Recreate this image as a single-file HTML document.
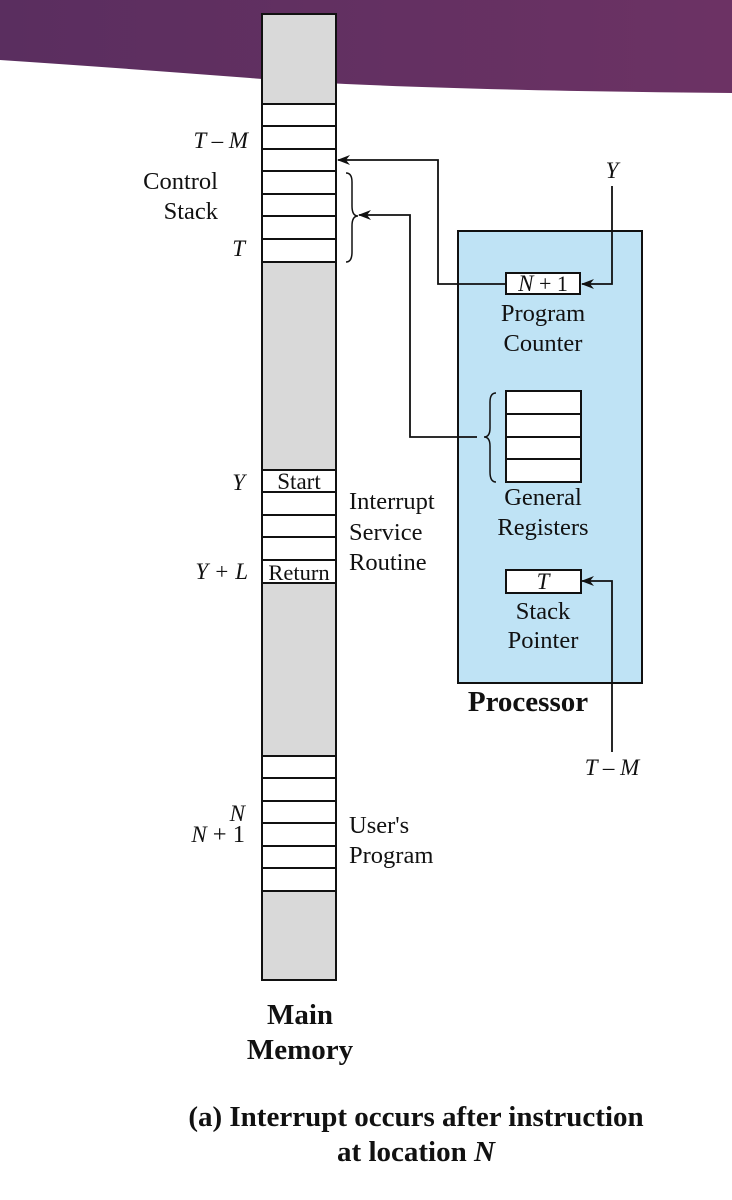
<!DOCTYPE html>
<html><head><meta charset="utf-8"><style>
html,body{margin:0;padding:0;background:#fff;}
svg{display:block;}
text{font-family:"Liberation Serif",serif;font-size:24.5px;fill:#111;}
.i{font-style:italic;font-size:23px;}
.b{font-weight:bold;font-size:29px;}
</style></head><body>
<svg width="732" height="1200" viewBox="0 0 732 1200" xmlns="http://www.w3.org/2000/svg">
<defs>
<linearGradient id="g" x1="0" x2="1" y1="0" y2="0">
<stop offset="0" stop-color="#5a2e5f"/><stop offset="1" stop-color="#6c3264"/></linearGradient>
<marker id="a" markerWidth="13" markerHeight="10" refX="12" refY="5" orient="auto" markerUnits="userSpaceOnUse">
<path d="M0,0 L13,5 L0,10 L4,5 Z" fill="#111"/></marker>
</defs>
<path d="M0,0 H732 V93 Q400,90 250,78 Q120,68 0,60 Z" fill="url(#g)"/>
<rect x="262" y="14" width="74" height="966" fill="#d9d9d9" stroke="#111" stroke-width="2"/>
<g fill="#fff" stroke="#111" stroke-width="2">
<rect x="262" y="104" width="74" height="158"/>
<rect x="262" y="470" width="74" height="113"/>
<rect x="262" y="756" width="74" height="135"/>
</g>
<g stroke="#111" stroke-width="2">
<line x1="262" x2="336" y1="126" y2="126"/><line x1="262" x2="336" y1="149" y2="149"/>
<line x1="262" x2="336" y1="171" y2="171"/><line x1="262" x2="336" y1="194" y2="194"/>
<line x1="262" x2="336" y1="216" y2="216"/><line x1="262" x2="336" y1="239" y2="239"/>
<line x1="262" x2="336" y1="492" y2="492"/><line x1="262" x2="336" y1="515" y2="515"/>
<line x1="262" x2="336" y1="537" y2="537"/><line x1="262" x2="336" y1="560" y2="560"/>
<line x1="262" x2="336" y1="778" y2="778"/><line x1="262" x2="336" y1="801" y2="801"/>
<line x1="262" x2="336" y1="823" y2="823"/><line x1="262" x2="336" y1="846" y2="846"/>
<line x1="262" x2="336" y1="868" y2="868"/>
</g>
<path d="M346,173 Q352,173 352,182 L352,206 Q352,216 358,216 Q352,216 352,226 L352,252 Q352,262 346,262" fill="none" stroke="#111" stroke-width="1.5"/>
<rect x="458" y="231" width="184" height="452" fill="#bfe3f5" stroke="#111" stroke-width="2"/>
<rect x="506" y="273" width="74" height="21" fill="#fff" stroke="#111" stroke-width="2"/>
<rect x="506" y="391" width="75" height="91" fill="#fff" stroke="#111" stroke-width="2"/>
<g stroke="#111" stroke-width="2"><line x1="506" x2="581" y1="414" y2="414"/><line x1="506" x2="581" y1="437" y2="437"/><line x1="506" x2="581" y1="459" y2="459"/></g>
<rect x="506" y="570" width="75" height="23" fill="#fff" stroke="#111" stroke-width="2"/>
<path d="M496,393 Q490,393 490,402 L490,428 Q490,437 484,437 Q490,437 490,446 L490,472 Q490,482 496,482" fill="none" stroke="#111" stroke-width="1.5"/>
<g fill="none" stroke="#111" stroke-width="1.8">
<polyline points="506,284 438,284 438,160 338,160" marker-end="url(#a)"/>
<polyline points="477,437 410,437 410,215 359,215" marker-end="url(#a)"/>
<polyline points="612,186 612,284 582,284" marker-end="url(#a)"/>
<polyline points="612,752 612,581 582,581" marker-end="url(#a)"/>
</g>
<text x="248" y="148" text-anchor="end" class="i">T – M</text>
<text x="218" y="189" text-anchor="end">Control</text>
<text x="218" y="219" text-anchor="end">Stack</text>
<text x="245" y="256" text-anchor="end" class="i">T</text>
<text x="245" y="490" text-anchor="end" class="i">Y</text>
<text x="299" y="489" text-anchor="middle" style="font-size:23px">Start</text>
<text x="248" y="579" text-anchor="end" class="i">Y + L</text>
<text x="299" y="580" text-anchor="middle" style="font-size:22.5px">Return</text>
<text x="349" y="509">Interrupt</text>
<text x="349" y="540">Service</text>
<text x="349" y="570">Routine</text>
<text x="245" y="821" text-anchor="end" class="i">N</text>
<text x="245" y="842" text-anchor="end"><tspan class="i">N</tspan> + 1</text>
<text x="349" y="833">User's</text>
<text x="349" y="863">Program</text>
<text x="300" y="1024" text-anchor="middle" class="b">Main</text>
<text x="300" y="1059" text-anchor="middle" class="b">Memory</text>
<text x="612" y="178" text-anchor="middle" class="i">Y</text>
<text x="543" y="291" text-anchor="middle" style="font-size:22px"><tspan class="i">N</tspan> + 1</text>
<text x="543" y="321" text-anchor="middle">Program</text>
<text x="543" y="351" text-anchor="middle">Counter</text>
<text x="543" y="505" text-anchor="middle">General</text>
<text x="543" y="535" text-anchor="middle">Registers</text>
<text x="543" y="589" text-anchor="middle" class="i">T</text>
<text x="543" y="619" text-anchor="middle">Stack</text>
<text x="543" y="648" text-anchor="middle">Pointer</text>
<text x="528" y="711" text-anchor="middle" class="b">Processor</text>
<text x="612" y="775" text-anchor="middle" class="i">T – M</text>
<text x="416" y="1126" text-anchor="middle" class="b">(a)  Interrupt occurs after instruction</text>
<text x="416" y="1161" text-anchor="middle" class="b">at location <tspan font-style="italic">N</tspan></text>
</svg>
</body></html>
